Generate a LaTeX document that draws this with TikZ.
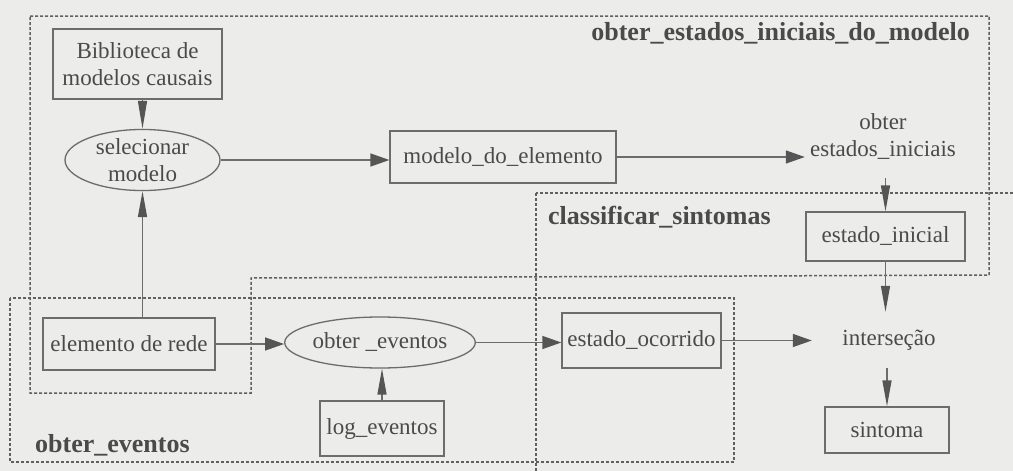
\documentclass[tikz,border=0pt]{standalone}
\usepackage{fontspec}
\setmainfont{Liberation Serif}
\usetikzlibrary{arrows.meta,shapes.geometric}

\definecolor{paper}{RGB}{236,236,234}
\definecolor{ink}{RGB}{74,74,74}
\definecolor{edge}{RGB}{108,108,108}
\definecolor{tip}{RGB}{85,85,85}
\definecolor{dashcol}{RGB}{96,96,96}

\tikzset{
  every node/.style={text=ink, font=\fontsize{23}{27}\selectfont, align=center},
  box/.style={draw=edge, line width=1.3pt, rectangle, inner sep=0pt},
  oval/.style={draw=edge, line width=1.3pt, ellipse, inner sep=0pt},
  plain/.style={draw=none, inner sep=0pt},
  region/.style={draw=dashcol, line width=1.5pt, dash pattern=on 3pt off 2pt},
  title/.style={font=\fontsize{26}{30}\selectfont\bfseries, inner sep=0pt},
  flowh/.style={draw=edge, line width=1.4pt, -{Triangle[length=19pt,width=13pt,fill=tip,color=tip]}},
  flowv/.style={draw=edge, line width=1.4pt, -{Triangle[length=26pt,width=9pt,fill=tip,color=tip]}},
  flowlong/.style={draw=edge, line width=1.4pt, -{Triangle[length=28pt,width=9pt,fill=tip,color=tip]}},
}

\begin{document}
\begin{tikzpicture}[x=1pt,y=-1pt]
  % page and paper tone
  \fill[paper] (0,0) rectangle (1013,471);
  \useasboundingbox (0,0) rectangle (1013,471);

  % grouping regions
  \begin{scope}
    \clip (0,0) rectangle (1013,471);
    \draw[region] (30,16) -- (989,16) -- (989,275) -- (251,278)
                  -- (251,393) -- (30,393) -- cycle;
    \draw[region] (536,193) rectangle (1040,500);
    \draw[region] (10,298) rectangle (734,462);
  \end{scope}

  % region titles
  \node[title, anchor=east] (tmodelo) at (970,33) {obter\_estados\_iniciais\_do\_modelo};
  \node[title, anchor=west] (tclass) at (548,217) {classificar\_sintomas};
  \node[title, anchor=west] (teventos) at (35,445) {obter\_eventos};

  % nodes
  \node[box, minimum width=169pt, minimum height=70pt] (bib) at (137.5,64)
       {Biblioteca de\\modelos causais};
  \node[oval, minimum width=155pt, minimum height=61pt] (sel) at (142.5,160)
       {selecionar\\modelo};
  \node[box, minimum width=226pt, minimum height=52pt] (mde) at (503,157)
       {modelo\_do\_elemento};
  \node[plain, minimum width=156pt, minimum height=82pt] (oei) at (883,137)
       {obter\\estados\_iniciais};
  \node[box, minimum width=159pt, minimum height=49pt] (ei) at (885.5,236.5)
       {estado\_inicial};
  \node[plain, ellipse, minimum width=154pt, minimum height=56pt] (int) at (889,340)
       {interseção};
  \node[box, minimum width=124pt, minimum height=46pt] (sin) at (887,430)
       {sintoma};
  \node[box, minimum width=159pt, minimum height=55pt] (eo) at (641.5,340.5)
       {estado\_ocorrido};
  \node[box, minimum width=172pt, minimum height=52pt] (er) at (129,344)
       {elemento de rede};
  \node[oval, minimum width=160pt, minimum height=51pt] (oe) at (380,342.5)
       {obter \_eventos};
  \node[box, minimum width=124pt, minimum height=55pt] (log) at (382,428.5)
       {log\_eventos};

  % connectors
  \draw[flowlong] (sel.north |- bib.south) -- (sel.north);
  \draw[flowv] (sel.south |- er.north) -- (sel.south);
  \draw[flowh] (sel.east) -- (sel.east -| mde.west);
  \draw[flowh] (mde.east) -- (mde.east -| oei.west);
  \draw[flowv] (ei.north |- oei.south) -- (ei.north);
  \draw[flowv] (ei.south) -- (ei.south |- int.north);
  \draw[flowv] (sin.north |- int.south) -- (sin.north);
  \draw[flowh] (er.east) -- (er.east -| oe.west);
  \draw[flowv] (log.north) -- (log.north |- oe.south);
  \draw[flowh] (oe.east) -- (oe.east -| eo.west);
  \draw[flowh] (eo.east) -- (eo.east -| int.west);
\end{tikzpicture}
\end{document}
